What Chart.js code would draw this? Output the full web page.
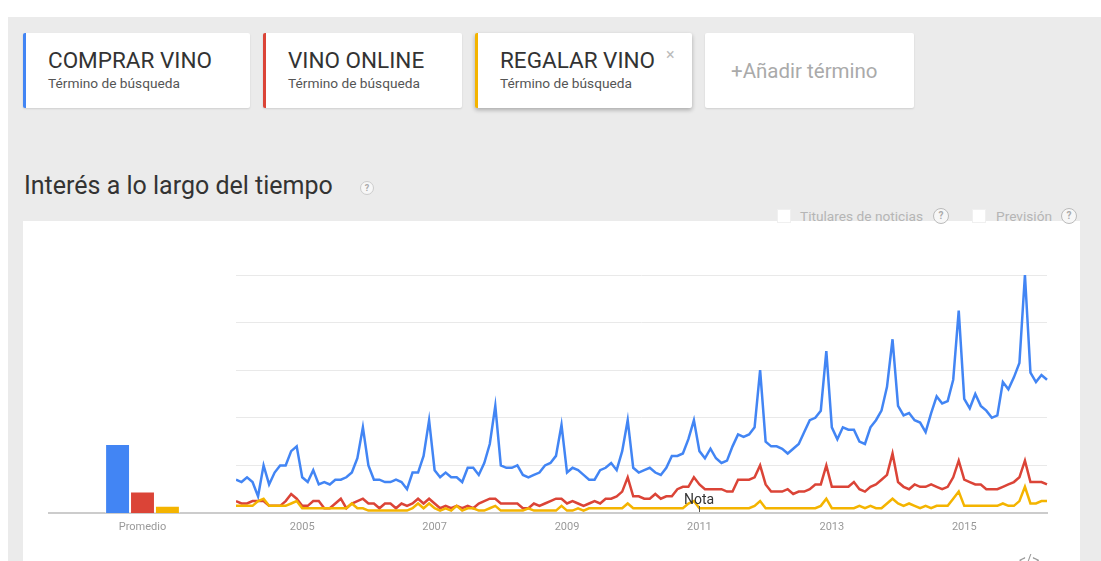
<!DOCTYPE html>
<html lang="es">
<head>
<meta charset="utf-8">
<title>Interés a lo largo del tiempo</title>
<script src="https://cdn.jsdelivr.net/npm/chart.js@4.4.1/dist/chart.umd.min.js"></script>
<style>
  body { margin: 0; width: 1101px; height: 561px; overflow: hidden; background: #fff; font-family: Roboto, Arial, sans-serif; position: relative; }
  .bg { position: absolute; left: 8px; top: 17px; width: 1093px; height: 544px; background: #ebebeb; }
  .card { position: absolute; top: 33px; height: 75px; background: #fff; border-radius: 2px; box-shadow: 0 1px 2px rgba(0,0,0,.12); box-sizing: border-box; }
  .term { position: absolute; top: 49px; font-size: 22.5px; line-height: 22px; color: #333; white-space: nowrap; }
  .kind { position: absolute; top: 77px; font-size: 13.7px; line-height: 13px; color: #555; white-space: nowrap; }
  .add { position: absolute; left: 731px; top: 61px; font-size: 20.5px; line-height: 21px; color: #aaa; white-space: nowrap; }
  .close { position: absolute; left: 666px; top: 47px; font-size: 16px; line-height: 16px; color: #bbb; }
  .title { position: absolute; left: 24px; top: 174px; font-size: 25px; line-height: 24px; color: #333; white-space: nowrap; }
  .help { position: absolute; box-sizing: border-box; border-radius: 50%; border: 1px solid #ccc; background: #f7f7f7; color: #aaa; text-align: center; font-weight: bold; }
  .box { position: absolute; left: 23px; top: 221px; width: 1057px; height: 340px; background: #fff; }
  .check { position: absolute; top: 209px; width: 14px; height: 14px; background: #fff; border: 1px solid #f0f0f0; box-sizing: border-box; }
  .opt { position: absolute; top: 209px; font-size: 13.7px; line-height: 14px; color: #b5b5b5; white-space: nowrap; }
  canvas { position: absolute; top: 221px; }
  .embed { position: absolute; left: 1019px; top: 552px; font-size: 14px; color: #999; }
</style>
</head>
<body>
<div class="bg"></div>

<div class="card" style="left:23px;width:227px;border-left:3px solid #4285f4"></div>
<div class="card" style="left:263px;width:199px;border-left:3px solid #db4437"></div>
<div class="card" style="left:475px;width:217px;border-left:3px solid #f4b400;box-shadow:0 2px 4px rgba(0,0,0,.28)"></div>
<div class="card" style="left:705px;width:209px"></div>

<div class="term" style="left:48px">COMPRAR VINO</div>
<div class="kind" style="left:48px">Término de búsqueda</div>
<div class="term" style="left:288px">VINO ONLINE</div>
<div class="kind" style="left:288px">Término de búsqueda</div>
<div class="term" style="left:500px">REGALAR VINO</div>
<div class="kind" style="left:500px">Término de búsqueda</div>
<div class="close">×</div>
<div class="add">+Añadir término</div>

<div class="title">Interés a lo largo del tiempo</div>
<div class="help" style="left:360px;top:181px;width:14px;height:14px;font-size:9px;line-height:12px">?</div>

<div class="box"></div>
<div class="check" style="left:777px"></div>
<div class="opt" style="left:800px">Titulares de noticias</div>
<div class="help" style="left:933px;top:208px;width:16px;height:16px;font-size:10px;line-height:14px;border-color:#bbb">?</div>
<div class="check" style="left:972px"></div>
<div class="opt" style="left:996px">Previsión</div>
<div class="help" style="left:1061px;top:208px;width:16px;height:16px;font-size:10px;line-height:14px;border-color:#bbb">?</div>

<canvas id="average" width="213" height="340" style="left:23px"></canvas>
<canvas id="trend" width="844" height="340" style="left:236px"></canvas>
<div class="embed">&lt;/&gt;</div>

<script>
const terms = ['COMPRAR VINO', 'VINO ONLINE', 'REGALAR VINO'];
const colors = ['#4285f4', '#db4437', '#f4b400'];

const averageLabel = ['Promedio'];
const averages = [29, 9, 3];

// monthly interest, Jan 2004 .. Apr 2016
const comprarVino = [
  14, 13, 15, 13, 7, 20, 12, 17, 20, 20, 26, 28,
  15, 13, 18, 12, 13, 12, 14, 14, 15, 17, 23, 36,
  20, 14, 14, 13, 13, 14, 13, 10, 17, 17, 24, 39,
  18, 15, 17, 15, 15, 13, 19, 19, 16, 21, 29, 45,
  20, 19, 19, 20, 16, 15, 16, 17, 20, 21, 24, 37,
  17, 19, 18, 16, 14, 14, 18, 19, 21, 18, 26, 39,
  19, 17, 18, 19, 17, 16, 19, 24, 24, 25, 31, 39,
  26, 23, 27, 23, 21, 22, 28, 33, 32, 33, 36, 60,
  30, 28, 28, 27, 25, 27, 29, 34, 39, 40, 43, 68,
  36, 31, 36, 35, 35, 30, 29, 36, 39, 43, 53, 73,
  45, 41, 42, 39, 38, 34, 42, 49, 46, 47, 56, 85,
  48, 44, 50, 45, 43, 40, 41, 55, 52, 57, 63, 100,
  59, 55, 58, 56
];
const vinoOnline = [
  5, 4, 4, 5, 5, 5, 3, 3, 3, 5, 8, 6,
  3, 3, 5, 5, 2, 2, 4, 6, 2, 4, 5, 6,
  4, 4, 2, 4, 4, 2, 4, 3, 4, 6, 4, 6,
  4, 2, 3, 2, 3, 2, 3, 2, 4, 5, 6, 6,
  4, 4, 4, 4, 2, 2, 4, 3, 4, 5, 6, 6,
  4, 5, 4, 3, 4, 5, 4, 6, 6, 7, 9, 15,
  7, 7, 6, 6, 8, 6, 7, 7, 10, 11, 11, 15,
  12, 10, 10, 10, 10, 9, 9, 14, 14, 14, 15, 20,
  12, 9, 9, 9, 10, 8, 9, 9, 10, 12, 12, 20,
  11, 11, 11, 11, 13, 10, 9, 11, 12, 14, 16, 25,
  13, 11, 10, 12, 11, 11, 12, 11, 10, 11, 15, 22,
  14, 13, 12, 12, 10, 10, 10, 11, 12, 13, 15, 22,
  13, 13, 13, 12
];
const regalarVino = [
  3, 3, 3, 3, 5, 6, 3, 3, 3, 3, 4, 5,
  2, 2, 2, 2, 2, 2, 2, 2, 2, 4, 2, 2,
  1, 1, 1, 1, 1, 1, 1, 1, 2, 4, 2, 4,
  2, 1, 2, 1, 3, 1, 2, 2, 1, 1, 2, 3,
  1, 1, 1, 1, 1, 2, 1, 1, 1, 1, 1, 3,
  1, 1, 2, 1, 2, 2, 2, 2, 2, 2, 2, 4,
  2, 2, 2, 2, 2, 2, 2, 2, 2, 2, 4, 5,
  2, 2, 2, 2, 2, 2, 2, 2, 2, 2, 3, 5,
  2, 2, 2, 2, 2, 2, 2, 2, 2, 2, 3, 6,
  2, 2, 2, 2, 2, 3, 2, 3, 2, 2, 4, 6,
  4, 3, 4, 3, 2, 3, 2, 3, 3, 3, 6, 9,
  3, 3, 3, 3, 3, 3, 3, 4, 3, 3, 5, 11,
  4, 4, 5, 5
];

const yearTicks = ['2005', '2007', '2009', '2011', '2013', '2015'];
const noteMonth = '2011-01';

const months = [];
for (let i = 0; i < comprarVino.length; i++) {
  const y = 2004 + Math.floor(i / 12);
  const m = String(i % 12 + 1).padStart(2, '0');
  months.push(y + '-' + m);
}

Chart.defaults.font.family = 'Roboto, Arial, sans-serif';

const axisX = {
  grid: { display: false, drawTicks: false },
  border: { color: '#cccccc', width: 2 },
  ticks: { maxRotation: 0, padding: 8, color: '#999', font: { size: 11 } },
  afterFit: s => {
    // fixed axis height, and no extra side room for the tick labels
    s.height = 48;
    s.paddingLeft = 0;
    s.paddingRight = 0;
  }
};

// small "Nota" marker sitting on the axis
const notePlugin = {
  id: 'nota',
  afterDatasetsDraw(chart) {
    const ctx = chart.ctx;
    const x = Math.round(chart.scales.x.getPixelForValue(months.indexOf(noteMonth)));
    const y = chart.chartArea.bottom;
    ctx.save();
    ctx.strokeStyle = '#555';
    ctx.lineWidth = 1;
    ctx.beginPath();
    ctx.moveTo(x + 0.5, y - 7);
    ctx.lineTo(x + 0.5, y - 1);
    ctx.stroke();
    ctx.fillStyle = '#333';
    ctx.font = '14px Roboto, Arial, sans-serif';
    ctx.textAlign = 'center';
    ctx.fillText('Nota', x, y - 9);
    ctx.restore();
  }
};

new Chart(document.getElementById('average'), {
  type: 'bar',
  data: {
    labels: averageLabel,
    datasets: terms.map((t, i) => ({
      label: t,
      data: [averages[i]],
      backgroundColor: colors[i],
      borderColor: 'rgba(255,255,255,0.45)',
      borderWidth: 1
    }))
  },
  options: {
    responsive: false,
    animation: false,
    devicePixelRatio: 1,
    layout: { padding: { left: 26, right: 0, top: 54, bottom: 0 } },
    datasets: { bar: { categoryPercentage: 0.4, barPercentage: 1 } },
    plugins: { legend: { display: false }, tooltip: { enabled: false } },
    scales: {
      x: axisX,
      y: { display: false, min: 0, max: 100 }
    }
  }
});

new Chart(document.getElementById('trend'), {
  type: 'line',
  data: {
    labels: months,
    datasets: [
      { label: terms[0], data: comprarVino, borderColor: colors[0], order: 2 },
      { label: terms[1], data: vinoOnline, borderColor: colors[1], order: 1 },
      { label: terms[2], data: regalarVino, borderColor: colors[2], order: 0 }
    ]
  },
  options: {
    responsive: false,
    animation: false,
    devicePixelRatio: 1,
    layout: { padding: { left: 0, right: 33, top: 54, bottom: 0 } },
    elements: { point: { radius: 0 }, line: { borderWidth: 2.5, tension: 0 } },
    plugins: { legend: { display: false }, tooltip: { enabled: false } },
    scales: {
      x: {
        ...axisX,
        ticks: {
          ...axisX.ticks,
          autoSkip: false,
          callback: (v, i) => {
            const [y, m] = months[i].split('-');
            return m === '01' && yearTicks.includes(y) ? y : '';
          }
        }
      },
      y: {
        min: 0,
        max: 100,
        ticks: { display: false, stepSize: 20 },
        grid: { color: '#e9e9e9', drawTicks: false },
        border: { display: false }
      }
    }
  },
  plugins: [notePlugin]
});
</script>
</body>
</html>
